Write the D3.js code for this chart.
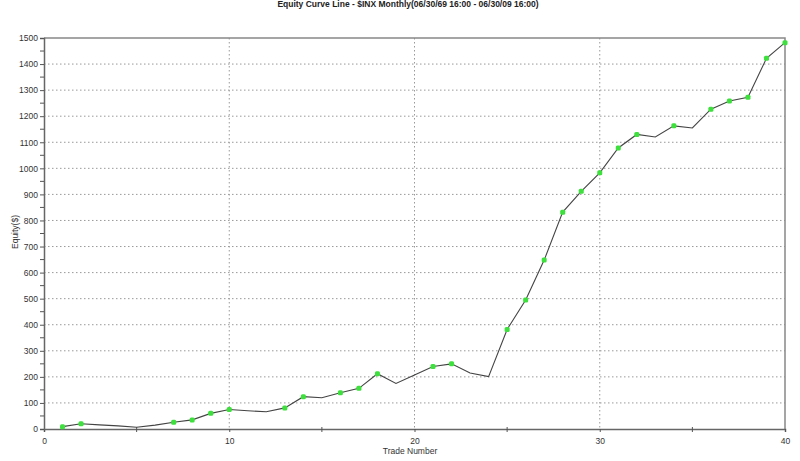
<!DOCTYPE html>
<html>
<head>
<meta charset="utf-8">
<script src="https://cdn.jsdelivr.net/npm/d3@7"></script>
<style>
  body { margin: 0; background: #fff; }
  svg text { font-family: "Liberation Sans", Arial, sans-serif; }
</style>
</head>
<body>
<div id="chart"></div>
<script>
// trade numbers and equity after each trade
const trades = d3.range(1, 41)
const equity = [9, 20, 16, 12, 7, 15, 26, 35, 60, 75,
  70, 66, 81, 124, 120, 139, 156, 212, 175, 207,
  240, 250, 215, 201, 382, 495, 648, 832, 912, 983,
  1078, 1130, 1120, 1163, 1155, 1227, 1258, 1273, 1422, 1482]
const xMajor = [0, 10, 20, 30, 40]
const xMinor = [5, 15, 25, 35]
const yMajor = d3.range(0, 1501, 100)
const yMinor = d3.range(50, 1500, 100)

const width = 800
const height = 461
const margin = {top: 38, right: 15, bottom: 32, left: 44}
const g_width = width - margin.left - margin.right
const g_height = height - margin.top - margin.bottom

const svg = d3.select('#chart').append('svg')
  .attr('width', width)
  .attr('height', height)

const x = d3.scaleLinear().domain([0, 40]).range([0, g_width])
const y = d3.scaleLinear().domain([0, 1500]).range([g_height, 0])

const g = svg.append('g').attr('transform', `translate(${margin.left}, ${margin.top})`)

// grid
g.append('g').selectAll('line').data(yMajor.slice(1, -1)).join('line')
  .attr('x1', 0).attr('x2', g_width)
  .attr('y1', d => y(d)).attr('y2', d => y(d))
  .style('stroke', '#999').style('stroke-dasharray', '1.5,2.5')
g.append('g').selectAll('line').data(xMajor.slice(1, -1)).join('line')
  .attr('x1', d => x(d)).attr('x2', d => x(d))
  .attr('y1', 0).attr('y2', g_height)
  .style('stroke', '#999').style('stroke-dasharray', '1.5,2.5')

// frame top / right
g.append('path')
  .attr('d', `M0,0H${g_width}V${g_height}`)
  .style('fill', 'none').style('stroke', '#888').style('stroke-width', 1.5)

// axes
const xAxis = d3.axisBottom(x).tickValues(xMajor).tickSize(3).tickPadding(6)
const yAxis = d3.axisLeft(y).tickValues(yMajor).tickFormat(d3.format('d')).tickSize(4).tickPadding(2)

const gx = g.append('g').attr('transform', `translate(0, ${g_height})`).call(xAxis)
const gy = g.append('g').call(yAxis)
;[gx, gy].forEach(a => {
  a.select('.domain').style('stroke', '#666').style('stroke-width', 1.5)
  a.selectAll('.tick line').style('stroke', '#555')
  a.selectAll('.tick text').style('font-size', '8.5px').style('fill', '#333')
})
gx.append('g').selectAll('line').data(xMinor).join('line')
  .attr('x1', d => x(d)).attr('x2', d => x(d))
  .attr('y1', -2).attr('y2', 3)
  .style('stroke', '#555')
gy.append('g').selectAll('line').data(yMinor).join('line')
  .attr('x1', -4).attr('x2', 0)
  .attr('y1', d => y(d)).attr('y2', d => y(d))
  .style('stroke', '#555')

// equity line
const line = d3.line()
  .x((d, i) => x(trades[i]))
  .y(d => y(d))
g.append('path')
  .attr('d', line(equity))
  .style('fill', 'none')
  .style('stroke', '#444')
  .style('stroke-width', 1.1)

// markers on new equity highs
let peak = -Infinity
const highs = []
equity.forEach((v, i) => {
  if (v > peak) { peak = v; highs.push(i) }
})
g.append('g').selectAll('rect').data(highs).join('rect')
  .attr('x', i => x(trades[i]) - 2.5)
  .attr('y', i => y(equity[i]) - 2.5)
  .attr('width', 5).attr('height', 5)
  .attr('rx', 1.5)
  .style('fill', '#3de03d')

// titles
svg.append('text')
  .attr('x', 408).attr('y', 7)
  .attr('text-anchor', 'middle')
  .style('font-size', '8.5px').style('font-weight', 'bold').style('fill', '#222')
  .text('Equity Curve Line - $INX Monthly(06/30/69 16:00 - 06/30/09 16:00)')
svg.append('text')
  .attr('x', 410).attr('y', 454)
  .attr('text-anchor', 'middle')
  .style('font-size', '8.5px').style('fill', '#333')
  .text('Trade Number')
svg.append('text')
  .attr('transform', 'translate(18, 232) rotate(-90)')
  .attr('text-anchor', 'middle')
  .style('font-size', '8.5px').style('fill', '#333')
  .text('Equity($)')
</script>
</body>
</html>
